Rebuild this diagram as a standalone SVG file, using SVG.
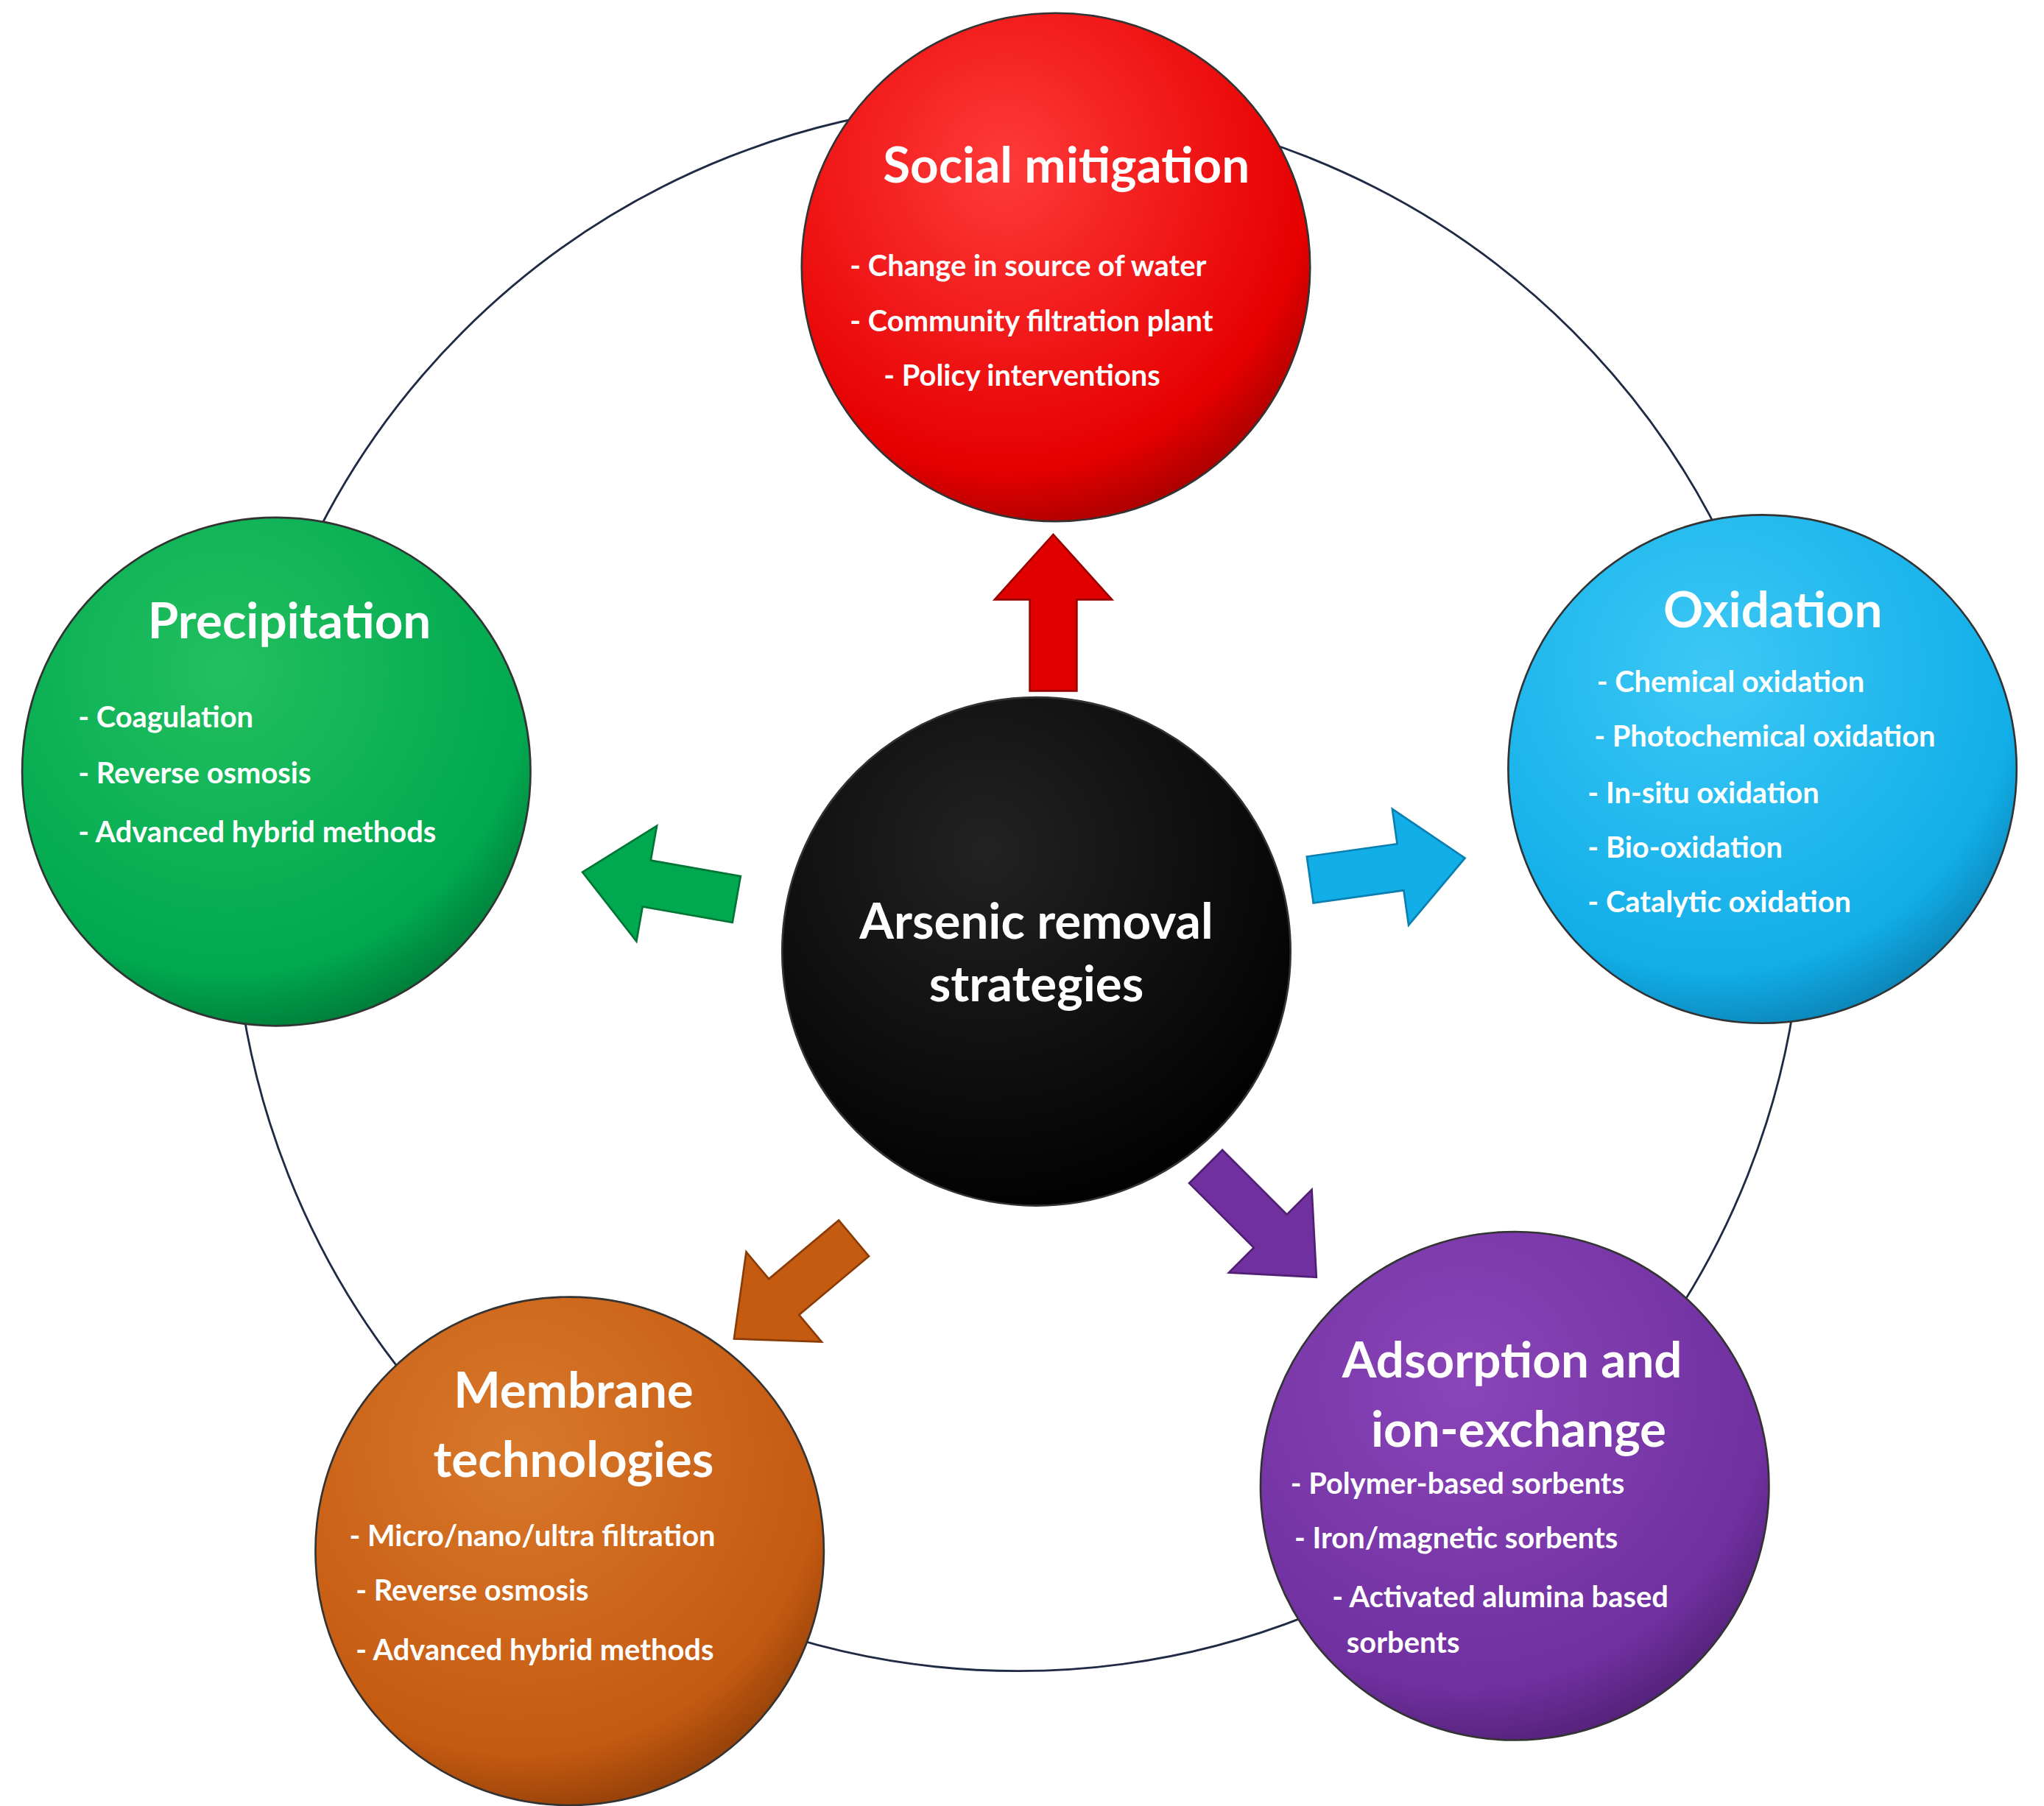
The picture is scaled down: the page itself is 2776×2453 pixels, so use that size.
<svg xmlns="http://www.w3.org/2000/svg" width="2776" height="2453" viewBox="0 0 2776 2453">
<style>
.t{font-family:Lato,"Open Sans",sans-serif;font-weight:bold;fill:#fff}
.h{font-size:38px}
.i{font-size:22.5px}
.ring{fill:none;stroke:#1f2a44;stroke-width:1.6}
.node{stroke:#333;stroke-width:1.5}
</style>
<defs>
<radialGradient id="gr" cx="0.4" cy="0.3" r="0.75"><stop offset="0" stop-color="#ff3a3a"/><stop offset="0.8" stop-color="#e60000"/><stop offset="1" stop-color="#a00000"/></radialGradient>
<radialGradient id="gb" cx="0.4" cy="0.3" r="0.75"><stop offset="0" stop-color="#3cc8f5"/><stop offset="0.8" stop-color="#12aee8"/><stop offset="1" stop-color="#0a7fb0"/></radialGradient>
<radialGradient id="gp" cx="0.4" cy="0.3" r="0.75"><stop offset="0" stop-color="#8a45b8"/><stop offset="0.8" stop-color="#7030a0"/><stop offset="1" stop-color="#4e1f72"/></radialGradient>
<radialGradient id="go" cx="0.4" cy="0.3" r="0.75"><stop offset="0" stop-color="#d8782a"/><stop offset="0.8" stop-color="#c55a11"/><stop offset="1" stop-color="#8a3c08"/></radialGradient>
<radialGradient id="gg" cx="0.4" cy="0.3" r="0.75"><stop offset="0" stop-color="#22c060"/><stop offset="0.8" stop-color="#00a84f"/><stop offset="1" stop-color="#007535"/></radialGradient>
<radialGradient id="gk" cx="0.4" cy="0.3" r="0.75"><stop offset="0" stop-color="#222"/><stop offset="1" stop-color="#000"/></radialGradient>
<path id="arr" d="M0,-18 L70,-18 L70,-45 L120,0 L70,45 L70,18 L0,18 Z"/>
</defs>
<rect width="2776" height="2453" fill="#fff"/>
<g transform="scale(1.7704)">
<g id="connectors">
<circle class="ring" cx="781" cy="680" r="602"/>
<use href="#arr" transform="translate(808,530) rotate(-90)" fill="#e00000" stroke="#900" stroke-width="1.5"/>
<use href="#arr" transform="translate(1005,675) rotate(-8)" fill="#12aee8" stroke="#0a7fb0" stroke-width="1.5"/>
<use href="#arr" transform="translate(925,895) rotate(45)" fill="#7030a0" stroke="#4e1f72" stroke-width="1.5"/>
<use href="#arr" transform="translate(655,950) rotate(140)" fill="#c55a11" stroke="#8a3c08" stroke-width="1.5"/>
<use href="#arr" transform="translate(565,690) rotate(190)" fill="#00a84f" stroke="#007535" stroke-width="1.5"/>
</g>
<g id="social">
<circle class="node" cx="810" cy="205" r="195" fill="url(#gr)"/>
<text class="t h" x="818" y="140" text-anchor="middle">Social mitigation</text>
<text class="t i" x="652" y="212">- Change in source of water</text>
<text class="t i" x="652" y="254">- Community filtration plant</text>
<text class="t i" x="678" y="296">- Policy interventions</text>
</g>
<g id="oxidation">
<circle class="node" cx="1352" cy="590" r="195" fill="url(#gb)"/>
<text class="t h" x="1360" y="481" text-anchor="middle">Oxidation</text>
<text class="t i" x="1225" y="531">- Chemical oxidation</text>
<text class="t i" x="1223" y="573">- Photochemical oxidation</text>
<text class="t i" x="1218" y="616">- In-situ oxidation</text>
<text class="t i" x="1218" y="658">- Bio-oxidation</text>
<text class="t i" x="1218" y="700">- Catalytic oxidation</text>
</g>
<g id="adsorption">
<circle class="node" cx="1162" cy="1140" r="195" fill="url(#gp)"/>
<text class="t h" x="1160" y="1057" text-anchor="middle">Adsorption and</text>
<text class="t h" x="1165" y="1110" text-anchor="middle">ion-exchange</text>
<text class="t i" x="990" y="1146">-   Polymer-based sorbents</text>
<text class="t i" x="993" y="1188">- Iron/magnetic sorbents</text>
<text class="t i" x="1022" y="1233">- Activated alumina based</text>
<text class="t i" x="1033" y="1268">sorbents</text>
</g>
<g id="membrane">
<circle class="node" cx="437" cy="1190" r="195" fill="url(#go)"/>
<text class="t h" x="440" y="1080" text-anchor="middle">Membrane</text>
<text class="t h" x="440" y="1133" text-anchor="middle">technologies</text>
<text class="t i" x="268" y="1186">- Micro/nano/ultra filtration</text>
<text class="t i" x="273" y="1228">- Reverse osmosis</text>
<text class="t i" x="273" y="1274">- Advanced hybrid methods</text>
</g>
<g id="precipitation">
<circle class="node" cx="212" cy="592" r="195" fill="url(#gg)"/>
<text class="t h" x="222" y="490" text-anchor="middle">Precipitation</text>
<text class="t i" x="60" y="558">- Coagulation</text>
<text class="t i" x="60" y="601">- Reverse osmosis</text>
<text class="t i" x="60" y="646">- Advanced hybrid methods</text>
</g>
<g id="center">
<circle class="node" cx="795" cy="730" r="195" fill="url(#gk)"/>
<text class="t" font-size="38" x="795" y="720" text-anchor="middle">Arsenic removal</text>
<text class="t" font-size="38" x="795" y="768" text-anchor="middle">strategies</text>
</g>
</g>
</svg>
